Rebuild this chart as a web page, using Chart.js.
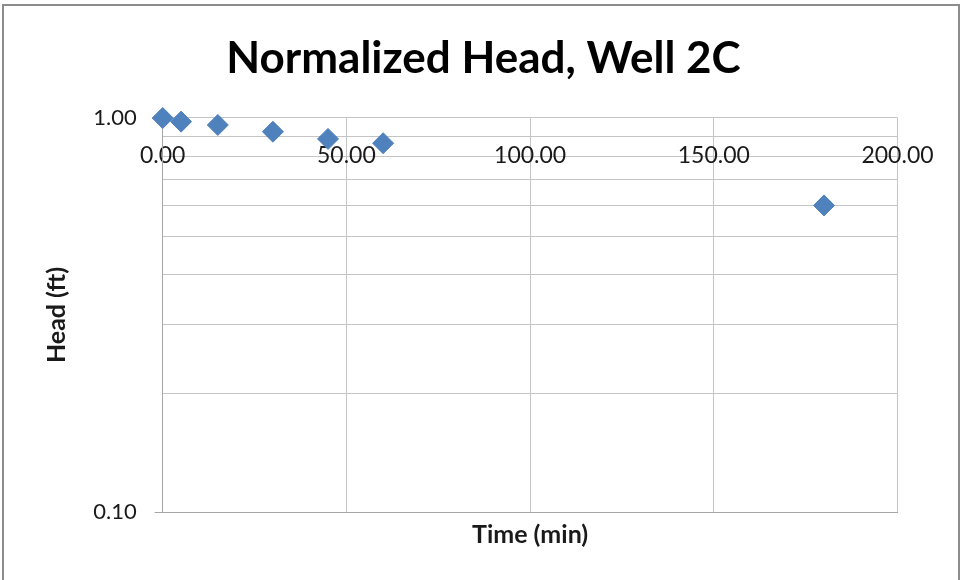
<!DOCTYPE html>
<html>
<head>
<meta charset="utf-8">
<script src="https://cdn.jsdelivr.net/npm/chart.js@4/dist/chart.umd.min.js"></script>
<style>
  html, body { margin: 0; padding: 0; background: #fff; }
  #frame { position: absolute; left: 2px; top: 4px; width: 958px; height: 600px; border: 2px solid #8c8c8c; border-bottom: none; box-sizing: border-box; }
  #wrap { position: absolute; left: 0; top: 0; width: 964px; height: 580px; }
</style>
</head>
<body>
<div id="frame"></div>
<div id="wrap"><canvas id="c" width="964" height="580"></canvas></div>
<script>
// ---- data ----
const timeMin = [0, 5, 15, 30, 45, 60, 180];
const headNorm = [1.00, 0.979, 0.960, 0.923, 0.885, 0.863, 0.60];
const xTickValues = [0, 50, 100, 150, 200];
const yTickValues = [0.1, 0.2, 0.3, 0.4, 0.5, 0.6, 0.7, 0.8, 0.9, 1.0];
const yLabeledTicks = [0.10, 1.00];
const chartTitle = 'Normalized Head, Well 2C';
const xTitle = 'Time (min)';
const yTitle = 'Head (ft)';

const FONT = 'Lato, "Open Sans", sans-serif';
const gridColor = '#c4c4c4';
const axisColor = '#a6a6a6';
const textColor = '#1a1a1a';

const points = timeMin.map((t, i) => ({ x: t, y: headNorm[i] }));
const isLabeled = v => yLabeledTicks.some(t => Math.abs(t - v) < 1e-9);

new Chart(document.getElementById('c'), {
  type: 'scatter',
  data: {
    datasets: [{
      data: points,
      pointStyle: 'rectRot',
      pointRadius: 10.5,
      pointHoverRadius: 10.5,
      backgroundColor: '#4f81bd',
      borderColor: '#4f81bd',
      borderWidth: 1,
      clip: false
    }]
  },
  options: {
    responsive: false,
    animation: false,
    events: [],
    layout: { padding: { left: 20, right: 17, top: 0, bottom: 0 } },
    plugins: {
      legend: { display: false },
      tooltip: { enabled: false },
      title: {
        display: true,
        text: chartTitle,
        color: '#000',
        font: { family: FONT, size: 44, weight: 'bold', lineHeight: 1.2 },
        padding: { top: 32.3, bottom: 32.9 }
      }
    },
    scales: {
      x: {
        type: 'linear',
        position: 'bottom',
        min: 0, max: 200,
        afterBuildTicks: axis => { axis.ticks = xTickValues.map(v => ({ value: v })); },
        afterFit: axis => { axis.height = 68; },
        ticks: { display: false },
        grid: { color: gridColor, drawTicks: false, lineWidth: 1 },
        border: { color: axisColor, width: 1 },
        title: {
          display: true, text: xTitle, color: textColor,
          font: { family: FONT, size: 25, weight: 'bold', lineHeight: 1.2 },
          padding: { top: 0, bottom: 30 }
        }
      },
      x2: {
        type: 'linear',
        axis: 'x',
        position: { y: 1 },
        min: 0, max: 200,
        afterBuildTicks: axis => { axis.ticks = xTickValues.map(v => ({ value: v })); },
        afterFit: axis => { axis.height = 0; },
        ticks: {
          color: textColor,
          font: { family: FONT, size: 23 },
          padding: 24,
          maxRotation: 0,
          callback: v => Number(v).toFixed(2)
        },
        grid: { display: false, drawTicks: false },
        border: { display: false }
      },
      y: {
        type: 'logarithmic',
        position: 'left',
        min: 0.1, max: 1.0,
        afterBuildTicks: axis => { axis.ticks = yTickValues.map(v => ({ value: v })); },
        afterFit: axis => { axis.width = 142.7; },
        ticks: {
          color: textColor,
          font: { family: FONT, size: 22 },
          padding: 18,
          autoSkip: false,
          callback: v => isLabeled(v) ? Number(v).toFixed(2) : ''
        },
        grid: {
          color: gridColor,
          tickLength: 8,
          tickColor: ctx => (ctx.tick && isLabeled(ctx.tick.value)) ? axisColor : 'rgba(0,0,0,0)'
        },
        border: { color: axisColor, width: 1 },
        title: {
          display: true, text: yTitle, color: textColor,
          font: { family: FONT, size: 25, weight: 'bold', lineHeight: 1.2 },
          padding: { top: 22, bottom: 0 }
        }
      },
      yRightSpace: {
        type: 'linear',
        axis: 'y',
        position: 'right',
        min: 0, max: 1,
        afterFit: axis => { axis.width = 49.5; },
        ticks: { display: false },
        grid: { display: false, drawTicks: false },
        border: { display: false }
      }
    }
  }
});
</script>
</body>
</html>
